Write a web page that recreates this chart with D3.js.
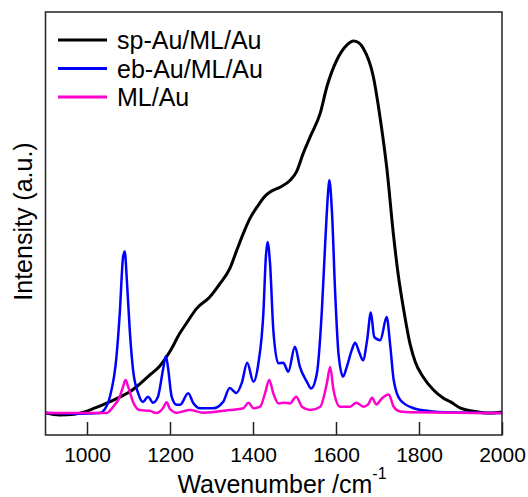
<!DOCTYPE html>
<html lang="en">
<head>
    <meta charset="UTF-8">
    <title>Raman spectra</title>
    <script src="https://d3js.org/d3.v7.min.js"></script>
    <style>
        body { margin: 0; background: #fff; }
        text { font-family: Arial, "Liberation Sans", sans-serif; fill: #000; }
    </style>
</head>
<body>
    <svg id="chart"></svg>

    <script>
        // Tick values on the wavenumber axis
        const wavenumberTicks = [1000, 1200, 1400, 1600, 1800, 2000];

        // Series names (legend order)
        const seriesNames = ["sp-Au/ML/Au", "eb-Au/ML/Au", "ML/Au"];

        // Spectra: [wavenumber (cm-1), intensity (a.u.)]
        const spAuMLAu = [
            [900, 0], [934, -0.5], [970, -0.3], [994, 0.3], [1018, 1.3], [1042, 2.4],
            [1079, 4.3], [1103, 5.7], [1127, 7.8], [1151, 10.2], [1175, 12.6], [1199, 16.4],
            [1224, 21.5], [1240, 24.2], [1265, 28.2], [1296, 31.2], [1320, 34.7], [1344, 38.8],
            [1361, 43.8], [1376, 48.1], [1393, 52.4], [1410, 55.4], [1429, 58.3], [1441, 59.4],
            [1465, 60.7], [1489, 62.5], [1505, 64.9], [1521, 69.8], [1538, 74.3], [1562, 80.6],
            [1578, 87.7], [1602, 94.9], [1626, 98.9], [1642, 100], [1654, 99.6], [1666, 98.0],
            [1690, 90.4], [1706, 79.6], [1723, 65.3], [1738, 48.4], [1750, 37.1], [1762, 28.5],
            [1779, 18.3], [1791, 13.7], [1810, 9.7], [1835, 6.2], [1859, 4.0], [1876, 3.0],
            [1900, 1.3], [1931, 0.5], [1972, 0], [2000, 0.3]
        ];

        const ebAuMLAu = [
            [900, 0], [982, -0.2], [1030, 0], [1038, 0.4], [1055, 4.3], [1071, 15.1],
            [1079, 26.9], [1087, 42.0], [1091, 43.4], [1096, 35.8], [1103, 22.3], [1111, 11.6],
            [1123, 5.4], [1135, 3.0], [1147, 4.4], [1159, 2.8], [1171, 4.4], [1183, 11.6],
            [1190, 15.3], [1195, 12.4], [1204, 4.4], [1216, 2.2], [1224, 2.2], [1244, 5.3],
            [1256, 2.7], [1272, 1.3], [1304, 1.3], [1328, 3.0], [1344, 6.7], [1360, 5.4],
            [1373, 8.1], [1386, 13.5], [1401, 8.4], [1413, 13.4], [1425, 26.9], [1431, 42.0],
            [1435, 46.0], [1441, 40.3], [1449, 22.3], [1461, 13.4], [1473, 13.5], [1485, 11.1],
            [1501, 17.8], [1513, 12.4], [1530, 8.4], [1540, 6.6], [1554, 10.7], [1566, 27.7],
            [1574, 45.7], [1582, 60.8], [1584, 62.6], [1590, 54.6], [1598, 32.3], [1606, 16.0],
            [1617, 9.8], [1626, 12.4], [1638, 16.9], [1646, 18.9], [1657, 16.0], [1665, 14.2],
            [1675, 19.6], [1684, 27.0], [1692, 20.5], [1707, 19.6], [1722, 25.8], [1731, 17.8],
            [1739, 8.9], [1755, 3.5], [1787, 1.3], [1827, 0.5], [1868, 0.2], [2000, 0]
        ];

        const mlAu = [
            [900, 0], [1047, 0], [1063, 1.7], [1079, 4.4], [1087, 7.1], [1093, 8.9],
            [1099, 7.1], [1111, 3.0], [1127, 0.8], [1151, 0.6], [1167, 0], [1183, 1.3],
            [1192, 2.9], [1200, 1.1], [1216, 0.1], [1248, 0.8], [1280, 0.1], [1344, 0.8],
            [1377, 1.3], [1389, 2.8], [1401, 1.3], [1417, 1.7], [1429, 5.3], [1439, 8.9],
            [1449, 5.3], [1461, 2.6], [1477, 2.8], [1489, 2.6], [1504, 4.4], [1518, 1.7],
            [1538, 0.8], [1562, 1.7], [1578, 8.0], [1586, 12.4], [1594, 6.2], [1610, 1.7],
            [1634, 1.7], [1649, 2.8], [1666, 1.7], [1678, 2.4], [1687, 4.1], [1697, 2.3],
            [1711, 4.0], [1727, 5.0], [1739, 1.7], [1755, 0.4], [1779, 0.2], [2000, 0]
        ];

        const seriesData = [spAuMLAu, ebAuMLAu, mlAu];
        const seriesColors = ["#000000", "#0000ff", "#ff00cc"];
        const seriesWidths = [3, 2.5, 2.5];

        // Chart dimensions
        const width = 528, height = 497;
        const plot = { left: 45.5, right: 502, top: 12, bottom: 435 };

        const svg = d3.select("#chart")
            .attr("width", width)
            .attr("height", height);

        const x = d3.scaleLinear()
            .domain([900, 2000])
            .range([plot.left, plot.right]);

        const y = d3.scaleLinear()
            .domain([-5.9, 107.8])
            .range([plot.bottom, plot.top]);

        const line = d3.line()
            .x(d => x(d[0]))
            .y(d => y(d[1]))
            .curve(d3.curveMonotoneX);

        // Spectra
        svg.append("g")
            .selectAll("path")
            .data(seriesData)
            .join("path")
            .attr("d", line)
            .attr("fill", "none")
            .attr("stroke", (d, i) => seriesColors[i])
            .attr("stroke-width", (d, i) => seriesWidths[i])
            .attr("stroke-linejoin", "round");

        // Bottom axis, ticks pointing inward
        const xAxis = d3.axisBottom(x)
            .tickValues(wavenumberTicks)
            .tickSizeInner(-13)
            .tickSizeOuter(0)
            .tickPadding(0)
            .tickFormat(d3.format("d"));

        const gx = svg.append("g")
            .attr("transform", `translate(0,${plot.bottom})`)
            .call(xAxis);
        gx.select(".domain").remove();
        gx.selectAll(".tick line").attr("stroke", "#222").attr("stroke-width", 1.5);
        gx.selectAll(".tick text")
            .attr("y", 26.5)
            .attr("dy", null)
            .style("font-size", "21px")
            .style("font-family", "Arial, 'Liberation Sans', sans-serif")
            .attr("fill", "#000");

        // Frame
        svg.append("rect")
            .attr("x", plot.left)
            .attr("y", plot.top)
            .attr("width", plot.right - plot.left)
            .attr("height", plot.bottom - plot.top)
            .attr("fill", "none")
            .attr("stroke", "#222")
            .attr("stroke-width", 1.5);

        // Axis titles
        const xTitle = svg.append("text")
            .attr("x", 282)
            .attr("y", 493)
            .attr("text-anchor", "middle")
            .style("font-size", "25px");
        xTitle.append("tspan").text("Wavenumber /cm");
        xTitle.append("tspan")
            .attr("dy", -14)
            .style("font-size", "16px")
            .text("-1");

        svg.append("text")
            .attr("transform", `translate(32,${(plot.top + plot.bottom) / 2 - 2}) rotate(-90)`)
            .attr("text-anchor", "middle")
            .style("font-size", "25px")
            .text("Intensity (a.u.)");

        // Legend
        const legend = svg.append("g");
        seriesNames.forEach((name, i) => {
            const ly = 40 + i * 28.5;
            legend.append("line")
                .attr("x1", 58).attr("x2", 107)
                .attr("y1", ly).attr("y2", ly)
                .attr("stroke", seriesColors[i])
                .attr("stroke-width", 3);
            legend.append("text")
                .attr("x", 117)
                .attr("y", ly + 9)
                .style("font-size", "25px")
                .text(name);
        });
    </script>
</body>
</html>
